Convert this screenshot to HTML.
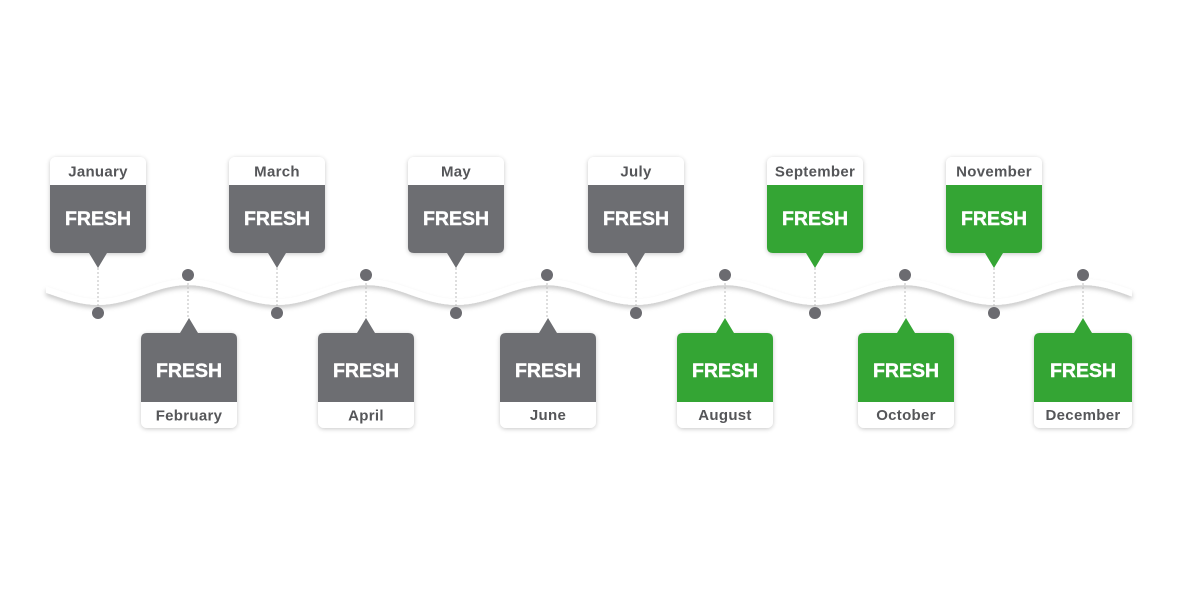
<!DOCTYPE html>
<html>
<head>
<meta charset="utf-8">
<style>
  html,body{margin:0;padding:0;background:#fff;}
  svg{display:block;}
  .m{font-family:"Liberation Sans",Arial,sans-serif;font-weight:bold;font-size:15px;fill:#555659;text-anchor:middle;letter-spacing:0.3px;}
  .f{font-family:"Liberation Sans",Arial,sans-serif;font-weight:bold;font-size:19.5px;fill:#fff;text-anchor:middle;stroke:#fff;stroke-width:0.4px;}
  .dl{stroke:#bcbcbc;stroke-width:1;stroke-dasharray:2 2;}
  .dot{fill:#6b6b70;}
</style>
</head>
<body>
<svg width="1200" height="600" viewBox="0 0 1200 600" xmlns="http://www.w3.org/2000/svg">
  <defs>
    <filter id="ws" x="-5%" y="-50%" width="110%" height="200%">
      <feDropShadow dx="0" dy="3" stdDeviation="2.5" flood-color="#000" flood-opacity="0.22"/>
    </filter>
    <filter id="cs" x="-20%" y="-20%" width="140%" height="140%">
      <feDropShadow dx="0" dy="1" stdDeviation="2" flood-color="#000" flood-opacity="0.22"/>
    </filter>
    <clipPath id="wc"><rect x="46" y="250" width="1086" height="80"/></clipPath>
  </defs>

  <!-- wave -->
  <g filter="url(#ws)">
    <path clip-path="url(#wc)" fill="none" stroke="#fff" stroke-width="6"
      d="M8.4,282 C41,282 65.4,302 98,302 S155,282 187.6,282 S244.6,302 277.2,302 S334.2,282 366.8,282 S423.8,302 456.4,302 S513.4,282 546,282 S603,302 635.6,302 S692.6,282 725.2,282 S782.2,302 814.8,302 S871.8,282 904.4,282 S961.4,302 994,302 S1051,282 1083.6,282 S1140.6,302 1173.2,302"/>
  </g>

  <!-- dotted connectors -->
  <g class="dl">
    <line x1="98" y1="268" x2="98" y2="313"/>
    <line x1="277" y1="268" x2="277" y2="313"/>
    <line x1="456" y1="268" x2="456" y2="313"/>
    <line x1="636" y1="268" x2="636" y2="313"/>
    <line x1="815" y1="268" x2="815" y2="313"/>
    <line x1="994" y1="268" x2="994" y2="313"/>
    <line x1="188" y1="275" x2="188" y2="318"/>
    <line x1="366" y1="275" x2="366" y2="318"/>
    <line x1="547" y1="275" x2="547" y2="318"/>
    <line x1="725" y1="275" x2="725" y2="318"/>
    <line x1="905" y1="275" x2="905" y2="318"/>
    <line x1="1083" y1="275" x2="1083" y2="318"/>
  </g>

  <!-- dots -->
  <g class="dot">
    <circle cx="98" cy="313" r="6"/>
    <circle cx="277" cy="313" r="6"/>
    <circle cx="456" cy="313" r="6"/>
    <circle cx="636" cy="313" r="6"/>
    <circle cx="815" cy="313" r="6"/>
    <circle cx="994" cy="313" r="6"/>
    <circle cx="188" cy="275" r="6"/>
    <circle cx="366" cy="275" r="6"/>
    <circle cx="547" cy="275" r="6"/>
    <circle cx="725" cy="275" r="6"/>
    <circle cx="905" cy="275" r="6"/>
    <circle cx="1083" cy="275" r="6"/>
  </g>

  <!-- TOP CARDS -->
  <g transform="translate(98,0)">
    <rect x="-48" y="157" width="96" height="96" rx="6" fill="#fff" filter="url(#cs)"/>
    <path d="M-48,185 H48 V247 Q48,253 42,253 H9 L0,268 L-9,253 H-42 Q-48,253 -48,247 Z" fill="#6d6e72"/>
    <text class="m" x="0" y="176.5">January</text>
    <text class="f" x="0" y="225">FRESH</text>
  </g>
  <g transform="translate(277,0)">
    <rect x="-48" y="157" width="96" height="96" rx="6" fill="#fff" filter="url(#cs)"/>
    <path d="M-48,185 H48 V247 Q48,253 42,253 H9 L0,268 L-9,253 H-42 Q-48,253 -48,247 Z" fill="#6d6e72"/>
    <text class="m" x="0" y="176.5">March</text>
    <text class="f" x="0" y="225">FRESH</text>
  </g>
  <g transform="translate(456,0)">
    <rect x="-48" y="157" width="96" height="96" rx="6" fill="#fff" filter="url(#cs)"/>
    <path d="M-48,185 H48 V247 Q48,253 42,253 H9 L0,268 L-9,253 H-42 Q-48,253 -48,247 Z" fill="#6d6e72"/>
    <text class="m" x="0" y="176.5">May</text>
    <text class="f" x="0" y="225">FRESH</text>
  </g>
  <g transform="translate(636,0)">
    <rect x="-48" y="157" width="96" height="96" rx="6" fill="#fff" filter="url(#cs)"/>
    <path d="M-48,185 H48 V247 Q48,253 42,253 H9 L0,268 L-9,253 H-42 Q-48,253 -48,247 Z" fill="#6d6e72"/>
    <text class="m" x="0" y="176.5">July</text>
    <text class="f" x="0" y="225">FRESH</text>
  </g>
  <g transform="translate(815,0)">
    <rect x="-48" y="157" width="96" height="96" rx="6" fill="#fff" filter="url(#cs)"/>
    <path d="M-48,185 H48 V247 Q48,253 42,253 H9 L0,268 L-9,253 H-42 Q-48,253 -48,247 Z" fill="#34a534"/>
    <text class="m" x="0" y="176.5">September</text>
    <text class="f" x="0" y="225">FRESH</text>
  </g>
  <g transform="translate(994,0)">
    <rect x="-48" y="157" width="96" height="96" rx="6" fill="#fff" filter="url(#cs)"/>
    <path d="M-48,185 H48 V247 Q48,253 42,253 H9 L0,268 L-9,253 H-42 Q-48,253 -48,247 Z" fill="#34a534"/>
    <text class="m" x="0" y="176.5">November</text>
    <text class="f" x="0" y="225">FRESH</text>
  </g>

  <!-- BOTTOM CARDS -->
  <g transform="translate(189,0)">
    <rect x="-48" y="333" width="96" height="95" rx="6" fill="#fff" filter="url(#cs)"/>
    <path d="M-48,339 Q-48,333 -42,333 H-9 L0,318 L9,333 H42 Q48,333 48,339 V402 H-48 Z" fill="#6d6e72"/>
    <text class="f" x="0" y="377">FRESH</text>
    <text class="m" x="0" y="420.5">February</text>
  </g>
  <g transform="translate(366,0)">
    <rect x="-48" y="333" width="96" height="95" rx="6" fill="#fff" filter="url(#cs)"/>
    <path d="M-48,339 Q-48,333 -42,333 H-9 L0,318 L9,333 H42 Q48,333 48,339 V402 H-48 Z" fill="#6d6e72"/>
    <text class="f" x="0" y="377">FRESH</text>
    <text class="m" x="0" y="420.5">April</text>
  </g>
  <g transform="translate(548,0)">
    <rect x="-48" y="333" width="96" height="95" rx="6" fill="#fff" filter="url(#cs)"/>
    <path d="M-48,339 Q-48,333 -42,333 H-9 L0,318 L9,333 H42 Q48,333 48,339 V402 H-48 Z" fill="#6d6e72"/>
    <text class="f" x="0" y="377">FRESH</text>
    <text class="m" x="0" y="420">June</text>
  </g>
  <g transform="translate(725,0)">
    <rect x="-48" y="333" width="96" height="95" rx="6" fill="#fff" filter="url(#cs)"/>
    <path d="M-48,339 Q-48,333 -42,333 H-9 L0,318 L9,333 H42 Q48,333 48,339 V402 H-48 Z" fill="#34a534"/>
    <text class="f" x="0" y="377">FRESH</text>
    <text class="m" x="0" y="420">August</text>
  </g>
  <g transform="translate(906,0)">
    <rect x="-48" y="333" width="96" height="95" rx="6" fill="#fff" filter="url(#cs)"/>
    <path d="M-48,339 Q-48,333 -42,333 H-9 L0,318 L9,333 H42 Q48,333 48,339 V402 H-48 Z" fill="#34a534"/>
    <text class="f" x="0" y="377">FRESH</text>
    <text class="m" x="0" y="420">October</text>
  </g>
  <g transform="translate(1083,0)">
    <rect x="-49" y="333" width="98" height="95" rx="6" fill="#fff" filter="url(#cs)"/>
    <path d="M-49,339 Q-49,333 -43,333 H-9 L0,318 L9,333 H43 Q49,333 49,339 V402 H-49 Z" fill="#34a534"/>
    <text class="f" x="0" y="377">FRESH</text>
    <text class="m" x="0" y="420">December</text>
  </g>
</svg>
</body>
</html>
